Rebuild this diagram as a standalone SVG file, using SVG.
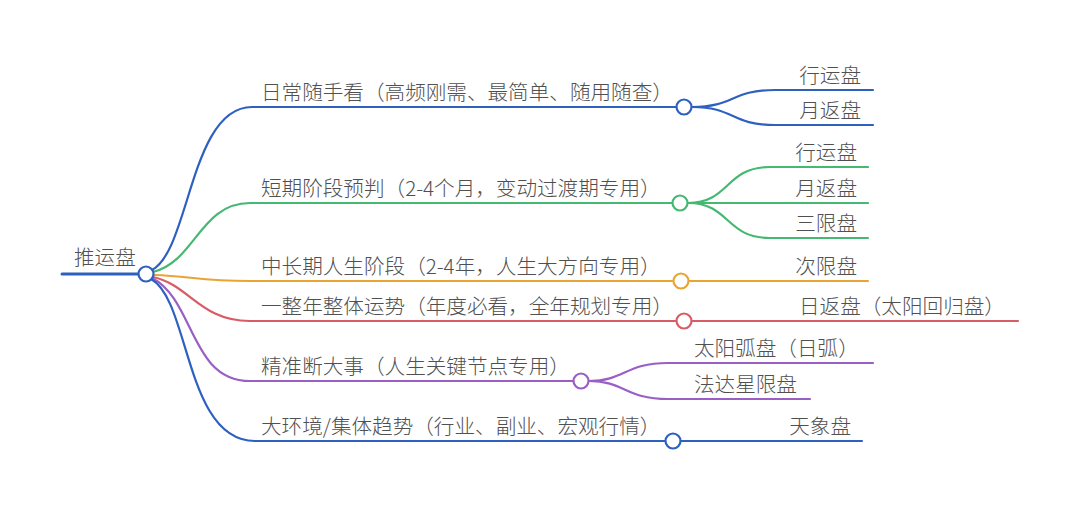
<svg xmlns="http://www.w3.org/2000/svg" width="1080" height="511" viewBox="0 0 1080 511">
<style>
text{font-family:"Noto Sans CJK SC","Liberation Sans",sans-serif;font-size:20.6px;font-weight:300;fill:#505050}
.e{text-anchor:end}
path{fill:none;stroke-width:2.2;stroke-linecap:round}
circle{fill:#fff;stroke-width:2.2}
.b{stroke:#2e60c0}.g{stroke:#45b872}.o{stroke:#e8a534}.r{stroke:#d85c66}.p{stroke:#9a5fc4}
</style>
<rect width="1080" height="511" fill="#fff"/>
<g id="connectors">
<path class="b" d="M62,274 L139,274" style="stroke-width:3"/>
<path class="b" d="M152,270 C190,250 190,107 252,107 L676,107"/>
<path class="g" d="M153,272 C195,262 200,203 250,203 L672,203"/>
<path class="o" d="M154,275 C190,276 200,281 250,281 L672,281"/>
<path class="r" d="M153,277 C190,285 200,321 250,321 L676,321"/>
<path class="p" d="M152,278 C195,300 190,381 250,381 L573,381"/>
<path class="b" d="M151,279 C190,300 185,441 255,441 L665,441"/>
<path class="b" d="M692,107 C735,107 730,90 775,90 L873,90"/>
<path class="b" d="M692,107 C735,107 730,125 775,125 L873,125"/>
<path class="g" d="M688,203 C730,203 725,167 770,167 L868,167"/>
<path class="g" d="M688,203 L868,203"/>
<path class="g" d="M688,203 C730,203 725,238 770,238 L868,238"/>
<path class="o" d="M689,281 L868,281"/>
<path class="r" d="M692,321 L1018,321"/>
<path class="p" d="M589,381 C625,381 625,363 668,363 L873,363"/>
<path class="p" d="M589,381 C625,381 625,399 668,399 L810,399"/>
<path class="b" d="M681,441 L862,441"/>
</g>
<g id="root"><circle class="b" cx="146" cy="274" r="7.5"/><text x="74" y="265">推运盘</text></g>
<g id="n1"><circle class="b" cx="684" cy="107" r="7.5"/><text x="261" y="100">日常随手看（高频刚需、最简单、随用随查）</text></g>
<g id="n1a"><text class="e" x="861" y="83">行运盘</text></g>
<g id="n1b"><text class="e" x="861" y="118">月返盘</text></g>
<g id="n2"><circle class="g" cx="680" cy="203" r="7.5"/><text x="261" y="196">短期阶段预判（2-4个月，变动过渡期专用）</text></g>
<g id="n2a"><text class="e" x="857" y="160">行运盘</text></g>
<g id="n2b"><text class="e" x="857" y="196">月返盘</text></g>
<g id="n2c"><text class="e" x="857" y="231">三限盘</text></g>
<g id="n3"><circle class="o" cx="681" cy="281" r="7.5"/><text x="261" y="274">中长期人生阶段（2-4年，人生大方向专用）</text></g>
<g id="n3a"><text class="e" x="857" y="274">次限盘</text></g>
<g id="n4"><circle class="r" cx="684" cy="321" r="7.5"/><text x="261" y="314">一整年整体运势（年度必看，全年规划专用）</text></g>
<g id="n4a"><text x="799" y="314">日返盘（太阳回归盘）</text></g>
<g id="n5"><circle class="p" cx="581" cy="381" r="7.5"/><text x="261" y="374">精准断大事（人生关键节点专用）</text></g>
<g id="n5a"><text x="694" y="356">太阳弧盘（日弧）</text></g>
<g id="n5b"><text x="694" y="392">法达星限盘</text></g>
<g id="n6"><circle class="b" cx="673" cy="441" r="7.5"/><text x="261" y="434">大环境/集体趋势（行业、副业、宏观行情）</text></g>
<g id="n6a"><text class="e" x="851" y="434">天象盘</text></g>
</svg>
